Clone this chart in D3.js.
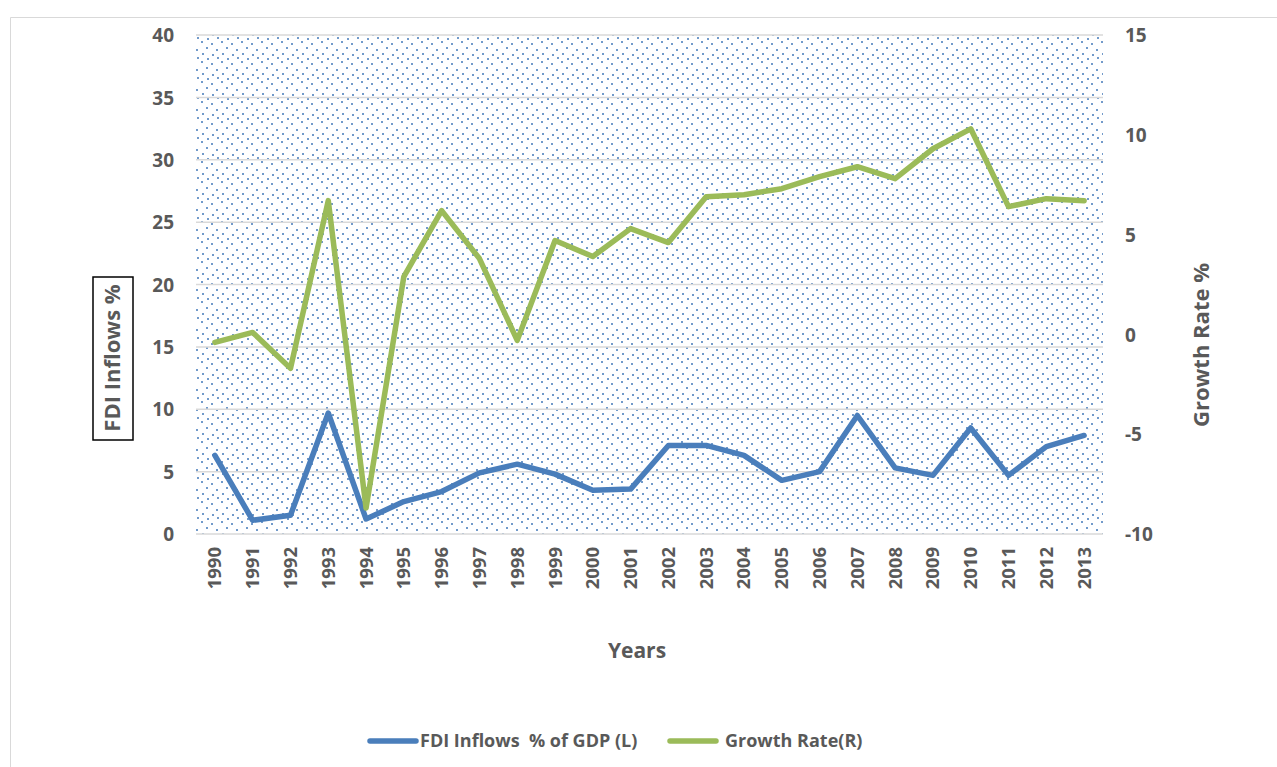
<!DOCTYPE html>
<html>
<head>
<meta charset="utf-8">
<script src="https://cdn.jsdelivr.net/npm/d3@7"></script>
<style>
  html, body { margin: 0; padding: 0; background: #fff; }
  svg { display: block; }
  text { font-family: "Open Sans", "DejaVu Sans", sans-serif; font-weight: 700; fill: #595959; }
</style>
</head>
<body>
<svg id="chart" width="1277" height="767"></svg>
<script>
// Years on the category axis
const years = ["1990","1991","1992","1993","1994","1995","1996","1997","1998","1999","2000","2001",
               "2002","2003","2004","2005","2006","2007","2008","2009","2010","2011","2012","2013"];
// FDI inflows, % of GDP (left axis)
const fdiInflows = [6.3,1.1,1.5,9.7,1.2,2.6,3.4,4.9,5.6,4.8,3.5,3.6,7.1,7.1,6.3,4.3,5.0,9.5,5.3,4.7,8.5,4.7,7.0,7.9];
// GDP growth rate, % (right axis)
const growthRate = [-0.4,0.1,-1.7,6.7,-8.7,2.9,6.2,3.8,-0.3,4.7,3.9,5.3,4.6,6.9,7.0,7.3,7.9,8.4,7.8,9.3,10.3,6.4,6.8,6.7];
// Axis ticks
const leftTicks = [0,5,10,15,20,25,30,35,40];
const rightTicks = [-10,-5,0,5,10,15];
// Series names for the legend
const seriesNames = ["FDI Inflows  % of GDP (L)", "Growth Rate(R)"];

const svg = d3.select("#chart");
const plot = { left: 196, right: 1103, top: 35, bottom: 534 };
const labelFont = "'Open Sans', sans-serif";

// Chart-area frame
svg.append("path")
  .attr("d", "M10.5,767 V17.5 H1277")
  .attr("fill", "none").attr("stroke", "#d9d9d9").attr("stroke-width", 1);

// Dotted fill for the plot area
const defs = svg.append("defs");
const pat = defs.append("pattern")
  .attr("id", "dots").attr("patternUnits", "userSpaceOnUse")
  .attr("width", 20).attr("height", 20);
pat.append("rect").attr("width", 20).attr("height", 20).attr("fill", "#fff");
[[1,1],[11,3],[6,7],[16,9],[2,13],[12,14],[7,18],[17,17]].forEach(([x,y]) => {
  pat.append("rect").attr("x", x).attr("y", y).attr("width", 2).attr("height", 2)
    .attr("fill", "#4f81bd").attr("opacity", 0.8);
});

const x = d3.scaleBand().domain(years).range([plot.left, plot.right]);
const yL = d3.scaleLinear().domain([0, 40]).range([plot.bottom, plot.top]);
const yR = d3.scaleLinear().domain([-10, 15]).range([plot.bottom, plot.top]);

svg.append("rect")
  .attr("x", plot.left).attr("y", plot.top)
  .attr("width", plot.right - plot.left).attr("height", plot.bottom - plot.top)
  .attr("fill", "url(#dots)");

// Horizontal gridlines
svg.append("g").selectAll("line").data(leftTicks).join("line")
  .attr("x1", plot.left).attr("x2", plot.right)
  .attr("y1", d => yL(d)).attr("y2", d => yL(d))
  .attr("stroke", "#d9d9d9").attr("stroke-width", 1.5);

// Left axis
const gL = svg.append("g").attr("transform", `translate(${plot.left - 4},0)`)
  .call(d3.axisLeft(yL).tickValues(leftTicks).tickSize(0).tickPadding(18));
gL.select(".domain").remove();
gL.selectAll("text").style("font-size", "19px").attr("fill", "#595959")
  .style("font-family", labelFont).style("font-weight", 700).attr("dy", "0.35em");

// Right axis
const gR = svg.append("g").attr("transform", `translate(${plot.right},0)`)
  .call(d3.axisRight(yR).tickValues(rightTicks).tickFormat(d => String(d)).tickSize(0).tickPadding(22));
gR.select(".domain").remove();
gR.selectAll("text").style("font-size", "19px").attr("fill", "#595959")
  .style("font-family", labelFont).style("font-weight", 700).attr("dy", "0.35em");

// Category axis, labels rotated
const gX = svg.append("g").attr("transform", `translate(0,${plot.bottom})`)
  .call(d3.axisBottom(x).tickSize(0).tickPadding(0));
gX.select(".domain").remove();
gX.selectAll("text")
  .style("font-size", "18.5px").attr("fill", "#595959")
  .style("font-family", labelFont).style("font-weight", 700)
  .attr("text-anchor", "end")
  .attr("transform", "rotate(-90)")
  .attr("x", -13).attr("y", 0).attr("dy", "0.35em");

// Series lines
const lineL = d3.line().x((d, i) => x(years[i]) + x.bandwidth() / 2).y(d => yL(d));
const lineR = d3.line().x((d, i) => x(years[i]) + x.bandwidth() / 2).y(d => yR(d));
svg.append("path").datum(fdiInflows).attr("d", lineL)
  .attr("fill", "none").attr("stroke", "#4a7ebb").attr("stroke-width", 5.5)
  .attr("stroke-linejoin", "round").attr("stroke-linecap", "round");
svg.append("path").datum(growthRate).attr("d", lineR)
  .attr("fill", "none").attr("stroke", "#9bbb59").attr("stroke-width", 5.5)
  .attr("stroke-linejoin", "round").attr("stroke-linecap", "round");

// Axis titles
svg.append("text").attr("x", 637).attr("y", 658).attr("text-anchor", "middle")
  .style("font-size", "21px").text("Years");

svg.append("rect").attr("x", 93).attr("y", 277).attr("width", 40).attr("height", 163)
  .attr("fill", "none").attr("stroke", "#000").attr("stroke-width", 1.5);
svg.append("text").attr("transform", "translate(120,358) rotate(-90)")
  .attr("text-anchor", "middle").style("font-size", "22px").text("FDI Inflows %");

svg.append("text").attr("transform", "translate(1209,345) rotate(-90)")
  .attr("text-anchor", "middle").style("font-size", "22px").text("Growth Rate %");

// Legend
const legend = [
  { name: seriesNames[0], color: "#4a7ebb", x: 370, tx: 50 },
  { name: seriesNames[1], color: "#9bbb59", x: 670, tx: 55 }
];
const lg = svg.append("g").selectAll("g").data(legend).join("g")
  .attr("transform", d => `translate(${d.x},741)`);
lg.append("line").attr("x1", 0).attr("x2", 46)
  .attr("stroke", d => d.color).attr("stroke-width", 5.5).attr("stroke-linecap", "round");
lg.append("text").attr("x", d => d.tx).attr("dy", "0.35em")
  .style("font-size", "18px").attr("xml:space", "preserve")
  .text(d => d.name);
</script>
</body>
</html>
